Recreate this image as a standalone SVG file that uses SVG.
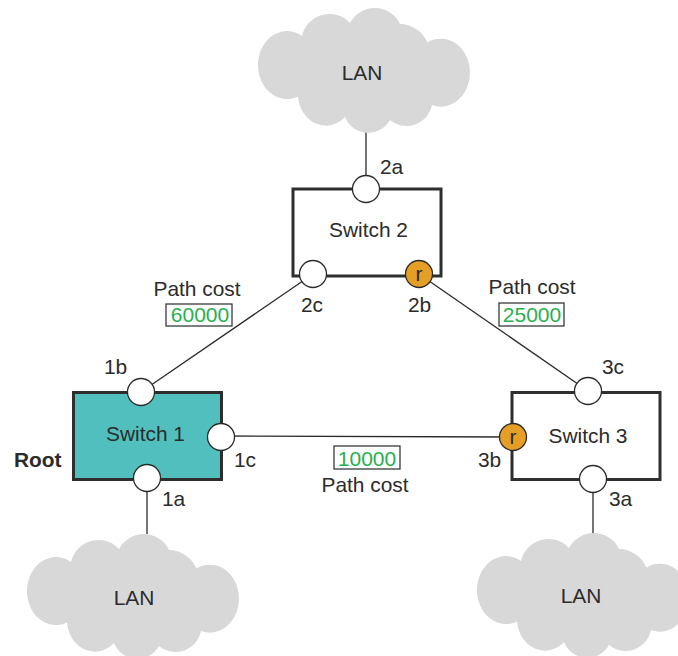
<svg xmlns="http://www.w3.org/2000/svg" xmlns:xlink="http://www.w3.org/1999/xlink" width="678" height="656" viewBox="0 0 678 656">
<style>
text{font-family:"Liberation Sans",Arial,sans-serif;font-size:20.9px;fill:#2b2b2b}
.m{text-anchor:middle}
.c{font-size:21px;fill:#27b04e}
.box{fill:#fff;stroke:#3a3a3a;stroke-width:1.3}
.sw{fill:#fff;stroke:#2e2e2e;stroke-width:3}
.p{fill:#fff;stroke:#2b2b2b;stroke-width:1.3}
.r{fill:#e59f27;stroke:#2b2b2b;stroke-width:1.3}
.l{stroke:#2b2b2b;stroke-width:1.3;fill:none}
.cl{fill:#d8d8d8}
</style>
<defs>
<path id="cloud" class="cl" d="M302 36A28 28 0 0 1 350 23A28 28 0 0 1 400 24A31 33 0 0 1 427.500 42.500A29 34 0 1 1 432 105A26 26 0 0 1 390 120A25 25 0 0 1 345 117A28 32 0 0 1 298 96.500A29 34 0 1 1 302 36Z"/>
</defs>
<g id="connectors">
<path class="l" d="M366 130V189M147 478V534M593 479V534M141 392L313 274M419 274L588 391M221 436L513 437"/>
</g>
<g id="lan-top"><use xlink:href="#cloud" href="#cloud"/><text class="m" x="362" y="80">LAN</text></g>
<g id="lan-left"><use xlink:href="#cloud" href="#cloud" transform="translate(-231 526)"/><text class="m" x="134" y="605">LAN</text></g>
<g id="lan-right"><use xlink:href="#cloud" href="#cloud" transform="translate(219 525)"/><text class="m" x="581" y="603">LAN</text></g>
<g id="switch1">
<rect class="sw" x="73.5" y="392.5" width="148" height="87" style="fill:#50bfbe"/>
<text class="m" x="145.500" y="441">Switch 1</text>
<text x="14" y="467" style="font-weight:bold">Root</text>
<circle class="p" cx="141" cy="392" r="13.5"/><text x="104" y="374">1b</text>
<circle class="p" cx="221" cy="437" r="13.5"/><text x="234" y="467">1c</text>
<circle class="p" cx="147" cy="478" r="13.5"/><text x="162" y="506">1a</text>
</g>
<g id="switch2">
<rect class="sw" x="293" y="189" width="148" height="87"/>
<text class="m" x="368.500" y="237">Switch 2</text>
<circle class="p" cx="366" cy="189" r="13.5"/><text x="380" y="174">2a</text>
<circle class="p" cx="313" cy="274" r="13.5"/><text x="301" y="312">2c</text>
<circle class="r" cx="419" cy="274" r="13.5"/><text class="m" x="419" y="281">r</text><text x="408" y="312">2b</text>
</g>
<g id="switch3">
<rect class="sw" x="512" y="392.5" width="148" height="87"/>
<text class="m" x="588" y="443">Switch 3</text>
<circle class="p" cx="588" cy="391" r="13.5"/><text x="602" y="374">3c</text>
<circle class="r" cx="513" cy="437" r="13.5"/><text class="m" x="513" y="444">r</text><text x="478" y="467">3b</text>
<circle class="p" cx="593" cy="479" r="13.5"/><text x="609" y="506">3a</text>
</g>
<g id="cost-60000">
<text class="m" x="197" y="296">Path cost</text>
<rect class="box" x="166" y="304" width="66" height="22"/>
<text class="m c" x="200" y="322">60000</text>
</g>
<g id="cost-25000">
<text class="m" x="532" y="294">Path cost</text>
<rect class="box" x="499" y="303" width="65" height="23"/>
<text class="m c" x="532" y="322">25000</text>
</g>
<g id="cost-10000">
<rect class="box" x="334" y="446" width="66" height="23"/>
<text class="m c" x="367" y="466">10000</text>
<text class="m" x="365" y="492">Path cost</text>
</g>
</svg>
